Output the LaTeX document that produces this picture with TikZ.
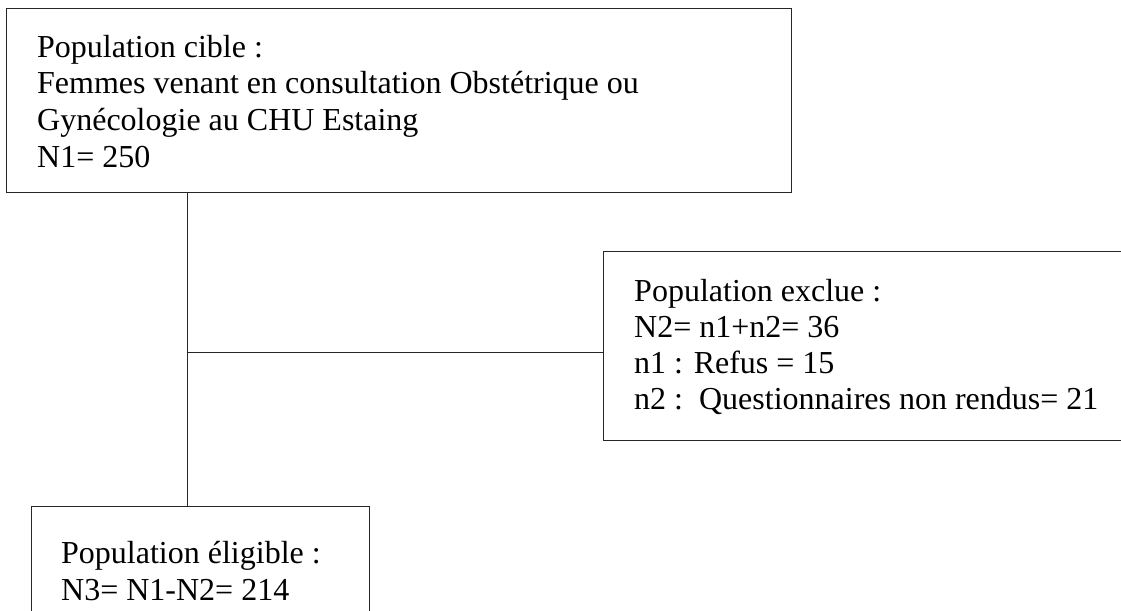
\documentclass[tikz,border=0pt]{standalone}
\usepackage{fontspec}
\setmainfont{Liberation Serif}
\begin{document}
\begin{tikzpicture}[x=1pt,y=-1pt,
  box/.style={draw=black!85, line width=0.9pt, inner sep=0pt, anchor=north west},
  txt/.style={anchor=base west, align=left, inner sep=0pt, font=\fontsize{32}{36.6}\selectfont},
  link/.style={draw=black!85, line width=0.9pt}]
\useasboundingbox (0,0) rectangle (1121,610);
\clip (0,0) rectangle (1121,610);
\fill[white] (0,0) rectangle (1121,610);
% boxes
\node[box, minimum width=785pt, minimum height=184pt] (cible) at (6,8) {};
\node[box, minimum width=540pt, minimum height=189pt] (exclue) at (603,251) {};
\node[box, minimum width=338pt, minimum height=130pt] (eligible) at (31,506) {};
% texts (anchored at the baseline of the last line)
\node[txt] (tcible) at (37,167) {Population cible :\\Femmes venant en consultation Obstétrique ou\\Gynécologie au CHU Estaing\\N1= 250};
\node[txt, font=\fontsize{32}{35.7}\selectfont] (texclue) at (634,409) {Population exclue :\\N2= n1+n2= 36\\n1 : Refus = 15\\n2 :\ \ Questionnaires non rendus= 21};
\node[txt] (teligible) at (61,600) {Population éligible :\\N3= N1-N2= 214};
% connectors
\coordinate (j) at (187,352);
\draw[link] (cible.south west -| j) -- (eligible.north west -| j);
\draw[link] (j) -- (exclue.west |- j);
\end{tikzpicture}
\end{document}
